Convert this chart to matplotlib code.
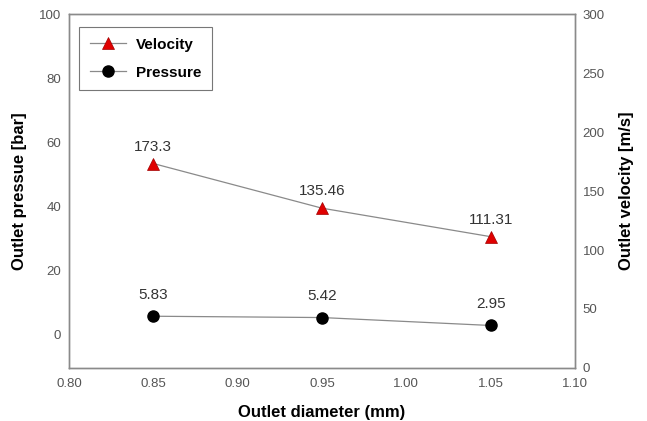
import numpy as np
import matplotlib.pyplot as plt

diameter = [0.85, 0.95, 1.05]
pressure = [5.83, 5.42, 2.95]
velocity = [173.3, 135.46, 111.31]
pressure_labels = ['5.83', '5.42', '2.95']
velocity_labels = ['173.3', '135.46', '111.31']

plt.rcParams['font.family'] = ['Liberation Sans', 'DejaVu Sans']
tick_col = '#555555'
spine_col = '#8a8a8a'

fig = plt.figure(figsize=(6.47, 4.21), dpi=100)
ax = fig.add_axes([0.1066, 0.1259, 0.782, 0.8408])
ax2 = ax.twinx()

p_line, = ax.plot(diameter, pressure, color='#8a8a8a', lw=0.9, marker='o',
                  markersize=8, markerfacecolor='black', markeredgecolor='black', zorder=3)
v_line, = ax2.plot(diameter, velocity, color='#8a8a8a', lw=0.9, marker='^',
                   markersize=8.5, markerfacecolor='#e00000', markeredgecolor='#a00000',
                   markeredgewidth=0.5, zorder=3)

for x, y, s in zip(diameter, pressure, pressure_labels):
    ax.annotate(s, (x, y), xytext=(0, 10.5), textcoords='offset points',
                ha='center', va='bottom', fontsize=11, color='#333333')
for x, y, s in zip(diameter, velocity, velocity_labels):
    ax2.annotate(s, (x, y), xytext=(0, 7), textcoords='offset points',
                 ha='center', va='bottom', fontsize=11, color='#333333')

ax.set_xlim(0.80, 1.10)
ax.set_xticks(np.arange(0.80, 1.101, 0.05))
ax.set_xticklabels(['0.80', '0.85', '0.90', '0.95', '1.00', '1.05', '1.10'])
ax.set_ylim(-10.3, 100)
ax.set_yticks([0, 20, 40, 60, 80, 100])
ax2.set_ylim(0, 300)
ax2.set_yticks([0, 50, 100, 150, 200, 250, 300])

for a in (ax, ax2):
    a.tick_params(length=0, labelsize=9.5, colors=tick_col, pad=5.5)
    for sp in a.spines.values():
        sp.set_color(spine_col)
        sp.set_linewidth(1.0)
ax.tick_params(axis='x', pad=7)

ax.set_xlabel('Outlet diameter (mm)', fontsize=12, fontweight='bold', labelpad=11)
ax.set_ylabel('Outlet pressue [bar]', fontsize=12, fontweight='bold', labelpad=9)
ax2.set_ylabel('Outlet velocity [m/s]', fontsize=12, fontweight='bold', labelpad=10)

leg = ax2.legend([v_line, p_line], ['Velocity', 'Pressure'], loc='upper left',
                 bbox_to_anchor=(0.02, 0.963), borderaxespad=0, frameon=True, fancybox=False,
                 edgecolor='#555555', prop={'weight': 'bold', 'size': 11},
                 borderpad=0.7, labelspacing=0.9, handlelength=2.4, handletextpad=0.6)
leg.get_frame().set_linewidth(0.8)

fig.savefig('out.png', dpi=100)
